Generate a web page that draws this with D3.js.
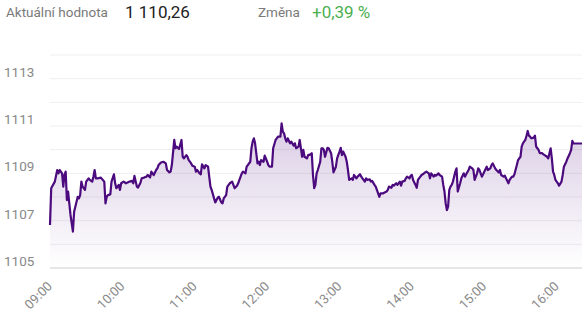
<!DOCTYPE html>
<html lang='cs'>
<head>
<meta charset='utf-8'>
<title>Aktuální hodnota</title>
<script src='https://cdn.jsdelivr.net/npm/d3@7/dist/d3.min.js'></script>
<style>
  body { margin: 0; background: #fff; font-family: Roboto, 'Noto Sans', sans-serif; }
</style>
</head>
<body>
<script>
// header texts
const headerLabels = ['Aktuální hodnota', 'Změna'];
const currentValue = '1 110,26';
const changeValue = '+0,39 %';

// axes
const yGridValues = [1105, 1106, 1107, 1108, 1109, 1110, 1111, 1112, 1113, 1114];
const yTickLabels = [1105, 1107, 1109, 1111, 1113];
const xTickLabels = ['09:00', '10:00', '11:00', '12:00', '13:00', '14:00', '15:00', '16:00'];
const timeStart = '09:00', timeEnd = '16:21';

// intraday series
const times = [
  '09:00','09:01','09:04','09:06','09:07','09:08','09:10','09:11','09:12','09:13','09:14','09:15','09:16','09:17','09:19','09:20','09:21','09:23','09:24','09:25','09:26','09:27','09:29','09:30','09:32','09:33','09:35','09:36','09:37','09:38','09:40','09:42','09:45','09:46','09:47','09:48','09:50','09:51','09:53','09:54','09:55','09:57','09:58','09:59',
  '10:01','10:03','10:06','10:08','10:09','10:10','10:12','10:13','10:15','10:16','10:18','10:20','10:21','10:23','10:24','10:26','10:28','10:29','10:30','10:32','10:34','10:36','10:37','10:39','10:40','10:41','10:43','10:44','10:45','10:47','10:49','10:50','10:51','10:53','10:54','10:55','10:57','10:58',
  '11:00','11:01','11:02','11:04','11:05','11:06','11:08','11:09','11:11','11:12','11:13','11:14','11:16','11:17','11:19','11:20','11:22','11:23','11:24','11:26','11:27','11:29','11:31','11:32','11:33','11:35','11:36','11:37','11:39','11:40','11:42','11:43','11:44','11:46','11:47','11:48','11:49','11:50','11:52','11:53','11:54','11:55','11:57','11:58',
  '12:00','12:01','12:02','12:04','12:05','12:07','12:08','12:09','12:11','12:12','12:13','12:14','12:15','12:16','12:17','12:19','12:20','12:22','12:23','12:24','12:26','12:27','12:29','12:30','12:31','12:33','12:34','12:36','12:37','12:38','12:39','12:40','12:41','12:42','12:44','12:45','12:46','12:47','12:48','12:50','12:51','12:53','12:54','12:55','12:57','12:58',
  '13:00','13:01','13:02','13:03','13:05','13:06','13:07','13:08','13:10','13:11','13:12','13:14','13:15','13:17','13:18','13:19','13:21','13:22','13:23','13:25','13:26','13:27','13:29','13:30','13:32','13:33','13:34','13:36','13:37','13:39','13:40','13:41','13:43','13:44','13:45','13:47','13:48','13:50','13:51','13:52','13:54','13:55','13:56','13:58','13:59',
  '14:00','14:01','14:03','14:04','14:05','14:07','14:08','14:09','14:11','14:12','14:14','14:15','14:16','14:18','14:19','14:20','14:22','14:23','14:25','14:26','14:27','14:28','14:29','14:30','14:31','14:32','14:33','14:34','14:36','14:37','14:38','14:40','14:41','14:43','14:44','14:45','14:47','14:48','14:50','14:51','14:52','14:54','14:55','14:56','14:58','14:59',
  '15:00','15:02','15:03','15:05','15:06','15:07','15:09','15:10','15:12','15:13','15:14','15:16','15:17','15:18','15:20','15:21','15:23','15:24','15:25','15:27','15:28','15:30','15:31','15:32','15:34','15:35','15:36','15:37','15:38','15:39','15:41','15:42','15:43','15:44','15:45','15:46','15:48','15:49','15:50','15:52','15:53','15:55','15:56','15:57','15:58','15:59',
  '16:01','16:02','16:04','16:05','16:06','16:08','16:09','16:11','16:12','16:13','16:14','16:21'
];
const values = [
  1106.82,1108.37,1108.65,1109.14,1109.00,1109.14,1109.00,1108.44,1108.93,1109.07,1107.87,1108.23,1107.73,1107.24,1106.54,1107.38,1107.59,1108.01,1107.94,1108.08,1108.65,1108.44,1108.30,1108.65,1108.79,1108.72,1108.65,1108.86,1109.14,1108.79,1108.79,1108.82,1108.65,1107.73,1108.01,1108.08,1108.11,1108.65,1108.96,1108.58,1108.37,1108.51,1108.30,1108.58,
  1108.65,1108.58,1108.65,1108.68,1108.58,1108.89,1108.44,1108.40,1108.60,1108.79,1108.82,1108.86,1108.93,1108.83,1109.07,1108.93,1109.14,1109.21,1109.35,1109.46,1109.49,1109.42,1109.14,1109.04,1109.07,1109.35,1110.41,1110.06,1110.13,1110.03,1110.41,1109.70,1109.63,1109.77,1109.70,1109.56,1109.42,1109.32,
  1109.28,1109.07,1109.14,1109.00,1108.96,1109.38,1109.21,1109.35,1109.28,1108.86,1108.44,1108.30,1107.94,1107.77,1107.97,1108.01,1107.77,1107.73,1107.94,1108.08,1108.44,1108.58,1108.65,1108.51,1108.37,1108.48,1108.58,1108.72,1109.00,1109.07,1109.00,1109.28,1109.35,1109.49,1110.06,1110.34,1110.48,1110.27,1109.42,1109.49,1109.35,1109.56,1109.49,1109.75,
  1109.49,1109.35,1109.28,1109.28,1110.06,1110.41,1110.48,1110.55,1110.55,1111.11,1110.76,1110.69,1110.48,1110.34,1110.48,1110.27,1110.34,1110.17,1110.27,1110.06,1110.13,1110.41,1109.70,1109.99,1109.70,1109.63,1109.77,1109.80,1109.85,1108.93,1108.37,1108.51,1109.00,1109.14,1109.49,1110.06,1110.06,1109.99,1109.70,1110.08,1110.06,1109.85,1109.49,1109.04,1109.28,1109.63,
  1109.92,1110.08,1109.77,1109.92,1109.70,1109.49,1109.14,1108.72,1108.79,1108.72,1108.93,1108.79,1108.86,1108.96,1108.86,1108.79,1108.65,1108.79,1108.72,1108.75,1108.65,1108.68,1108.51,1108.44,1108.15,1108.01,1108.15,1108.15,1108.18,1108.23,1108.30,1108.44,1108.39,1108.51,1108.48,1108.58,1108.51,1108.65,1108.48,1108.65,1108.68,1108.79,1108.86,1108.79,1108.90,
  1108.93,1108.72,1108.51,1108.39,1108.72,1108.86,1108.93,1108.96,1109.04,1109.07,1109.00,1108.79,1109.00,1108.86,1108.93,1108.90,1109.00,1108.93,1108.86,1108.51,1108.23,1107.73,1107.45,1107.59,1108.30,1108.44,1108.51,1108.65,1109.07,1109.21,1108.23,1108.58,1108.79,1109.00,1108.86,1108.96,1109.14,1109.28,1109.21,1109.14,1108.72,1109.00,1109.21,1109.14,1108.86,1108.96,
  1109.07,1109.28,1109.14,1109.21,1109.35,1109.42,1109.21,1109.14,1109.04,1109.14,1108.93,1108.86,1108.90,1108.79,1108.58,1108.72,1108.86,1108.86,1108.96,1109.35,1109.56,1109.70,1110.13,1110.27,1110.41,1110.59,1110.79,1110.59,1110.55,1110.48,1110.51,1110.59,1110.13,1110.06,1109.99,1109.85,1109.85,1109.80,1109.77,1109.70,1109.63,1110.06,1109.63,1109.07,1108.93,1108.72,
  1108.58,1108.48,1108.65,1108.93,1109.28,1109.49,1109.63,1109.85,1109.99,1110.37,1110.26,1110.26
];

const width = 586, height = 314;
const plotLeft = 50, plotRight = 582, plotTop = 55, plotBottom = 268;
const parseTime = d3.timeParse('%H:%M');
const data = times.map((t, i) => ({t: parseTime(t), v: values[i]}));

const svg = d3.select('body').append('svg').attr('width', width).attr('height', height);

// header
svg.append('text').attr('x', 6).attr('y', 17).attr('font-size', '13.5px').attr('fill', '#7a7a7a').text(headerLabels[0]);
svg.append('text').attr('x', 125).attr('y', 18).attr('font-size', '17px').attr('fill', '#222').text(currentValue);
svg.append('text').attr('x', 258).attr('y', 17).attr('font-size', '13.5px').attr('fill', '#7a7a7a').text(headerLabels[1]);
svg.append('text').attr('x', 312).attr('y', 18).attr('font-size', '17px').attr('fill', '#4caf50').text(changeValue);

const x = d3.scaleTime().domain([parseTime(timeStart), parseTime(timeEnd)]).range([plotLeft, plotRight]);
const y = d3.scaleLinear().domain([1105, 1114]).range([plotBottom, plotTop]);

// gridlines
svg.append('g').selectAll('line').data(yGridValues).enter().append('line')
  .attr('x1', plotLeft).attr('x2', plotRight)
  .attr('y1', d => y(d)).attr('y2', d => y(d))
  .attr('stroke', d => d === 1105 ? '#e6e6e6' : '#efefef')
  .attr('stroke-width', d => d === 1105 ? 2 : 1);

// y labels sit just above their gridline
svg.append('g').selectAll('text').data(yTickLabels).enter().append('text')
  .attr('x', 4).attr('y', d => y(d) - 2)
  .attr('font-size', '13.5px').attr('fill', '#888')
  .text(d => d);

// gradient under the line
const grad = svg.append('defs').append('linearGradient').attr('id', 'fade')
  .attr('gradientUnits', 'userSpaceOnUse')
  .attr('x1', 0).attr('x2', 0).attr('y1', y(1111)).attr('y2', plotBottom);
grad.append('stop').attr('offset', '0%').attr('stop-color', '#4b0a7d').attr('stop-opacity', 0.2);
grad.append('stop').attr('offset', '100%').attr('stop-color', '#4b0a7d').attr('stop-opacity', 0.0);

svg.append('path').datum(data)
  .attr('d', d3.area().x(d => x(d.t)).y0(plotBottom).y1(d => y(d.v)))
  .attr('fill', 'url(#fade)');

svg.append('path').datum(data)
  .attr('d', d3.line().x(d => x(d.t)).y(d => y(d.v)))
  .attr('fill', 'none').attr('stroke', '#4b0a7d').attr('stroke-width', 2.2)
  .attr('stroke-linejoin', 'round');

// x labels, rotated
svg.append('g').selectAll('text').data(xTickLabels).enter().append('text')
  .attr('transform', d => 'translate(' + (x(parseTime(d)) + 3) + ',' + 287 + ') rotate(-45)')
  .attr('text-anchor', 'end')
  .attr('font-size', '13px').attr('fill', '#888')
  .text(d => d);
</script>
</body>
</html>
